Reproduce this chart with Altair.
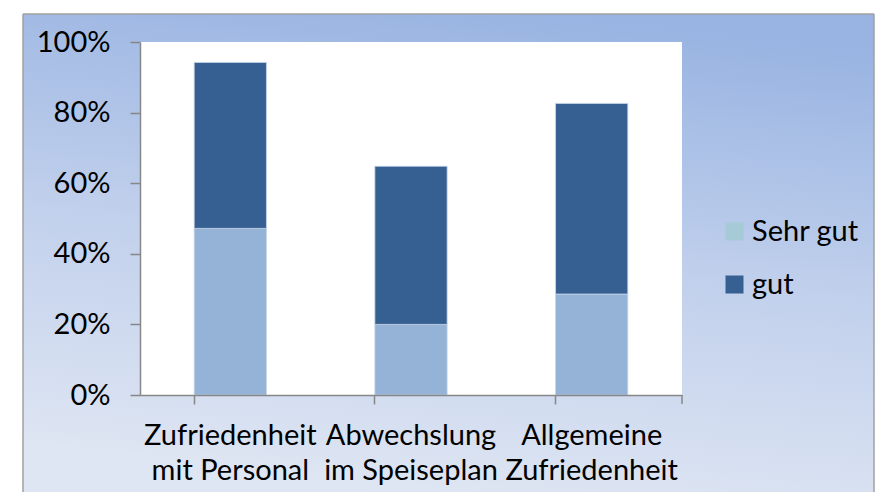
import altair as alt
import pandas as pd

categories = ["Zufriedenheit mit Personal", "Abwechslung im Speiseplan", "Allgemeine Zufriedenheit"]
series = ["Sehr gut", "gut"]
sehr_gut = [0.472, 0.200, 0.286]
gut = [0.470, 0.448, 0.540]

rows = []
for i, c in enumerate(categories):
    rows.append({"cat": c, "series": "Sehr gut", "value": sehr_gut[i], "order": 0})
    rows.append({"cat": c, "series": "gut", "value": gut[i], "order": 1})
df = pd.DataFrame(rows)

FONT = "Lato"
W, H = 542, 353
PAD_L, PAD_T, PAD_R, PAD_B = 132, 34, 193, 97

grad = alt.LinearGradient(
    gradient="linear",
    stops=[alt.GradientStop(color="#99b4e2", offset=0),
           alt.GradientStop(color="#c1d0ec", offset=0.5),
           alt.GradientStop(color="#dfe6f3", offset=1)],
    x1=0.6, y1=0, x2=0.4, y2=1,
)

one = alt.Data(values=[{"a": 1}])
LEFT, TOP, RIGHT, BOTTOM = 23 - 140, 14 - 42, W + PAD_R - 1, H + PAD_B

bg = alt.Chart(one).mark_rect(fill=grad).encode(
    x=alt.value(LEFT), x2=alt.value(RIGHT), y=alt.value(TOP), y2=alt.value(BOTTOM),
)
border_l = alt.Chart(one).mark_rule(color="#a0a0a0", strokeWidth=1.5).encode(
    x=alt.value(LEFT), y=alt.value(TOP), y2=alt.value(BOTTOM))
border_t = alt.Chart(one).mark_rule(color="#a0a0a0", strokeWidth=1.5).encode(
    x=alt.value(LEFT), x2=alt.value(RIGHT), y=alt.value(TOP))
border_r = alt.Chart(one).mark_rule(color="#a0a0a0", strokeWidth=1.5).encode(
    x=alt.value(RIGHT), y=alt.value(TOP), y2=alt.value(BOTTOM))

plot_bg = alt.Chart(one).mark_rect(fill="white").encode(
    x=alt.value(0), x2=alt.value(W), y=alt.value(0), y2=alt.value(H)
)

bars = alt.Chart(df).mark_bar(stroke="#c6d6ea", strokeWidth=0.8).encode(
    x=alt.X("cat:N", sort=categories, title=None,
            scale=alt.Scale(paddingInner=0.6, paddingOuter=0.3),
            axis=alt.Axis(
                labelExpr="[split(datum.label, ' ')[0], slice(datum.label, indexof(datum.label, ' ') + 1)]",
                labelAngle=0, labelFont=FONT, labelFontSize=29, labelColor="#000000",
                labelLineHeight=35, labelPadding=17, labelBaseline="top",
                bandPosition=0, tickSize=9, tickColor="#878787", tickWidth=1.5,
                domainColor="#878787", domainWidth=1.5, zindex=2,
            )),
    y=alt.Y("value:Q", stack="zero", title=None,
            scale=alt.Scale(domain=[0, 1], nice=False),
            axis=alt.Axis(
                values=[0, 0.2, 0.4, 0.6, 0.8, 1.0], format=".0%",
                labelFont=FONT, labelFontSize=29, labelColor="#000000",
                labelPadding=20, tickSize=10, tickColor="#878787", tickWidth=1.5,
                domainColor="#878787", domainWidth=1.5, grid=False, zindex=2,
            )),
    color=alt.Color("series:N", sort=series, legend=None,
                    scale=alt.Scale(domain=series, range=["#95b3d7", "#376092"])),
    order=alt.Order("order:Q"),
)

legend_layer = alt.Chart(df).mark_square(size=0, filled=True, opacity=1).encode(
    color=alt.Color("series:N", sort=series, title=None,
                    scale=alt.Scale(domain=series, range=["#a6cbd7", "#376092"]),
                    legend=alt.Legend(
                        orient="none", legendX=580, legendY=175,
                        symbolType="square", symbolSize=324, symbolStrokeWidth=0,
                        symbolOpacity=1,
                        labelFont=FONT, labelFontSize=29, labelColor="#000000",
                        labelOffset=3, rowPadding=23,
                    )),
)

end_tick = alt.Chart(one).mark_rule(color="#878787", strokeWidth=1.5).encode(
    x=alt.value(W), y=alt.value(H), y2=alt.value(H + 9)
)

chart = alt.layer(bg, border_l, border_t, border_r, plot_bg, bars, end_tick, legend_layer).resolve_scale(
    color="independent"
).properties(
    width=W, height=H,
    autosize=alt.AutoSizeParams(type="none"),
    padding={"left": PAD_L, "top": PAD_T, "right": PAD_R, "bottom": PAD_B},
    background="white",
).configure_view(stroke=None)

chart.save("out.html", embed_options={"renderer": "svg", "actions": False})
